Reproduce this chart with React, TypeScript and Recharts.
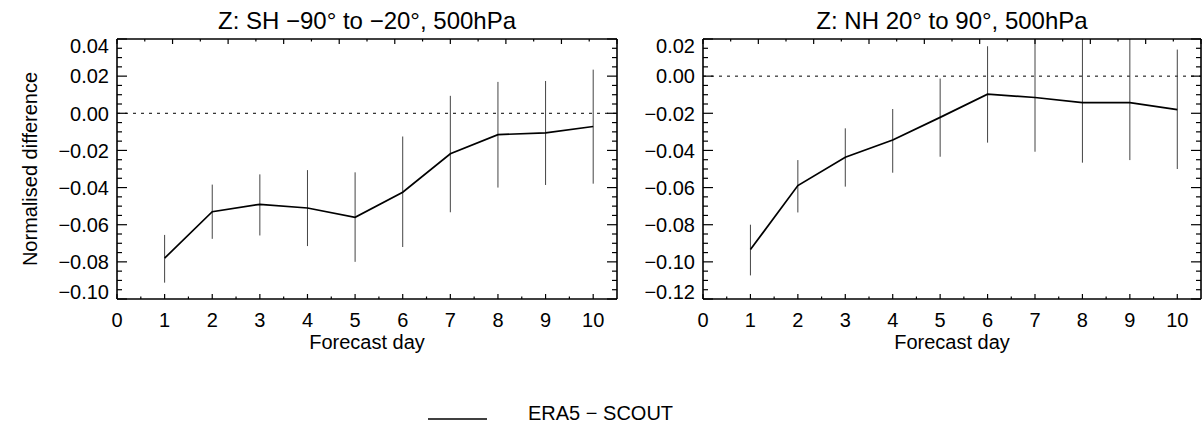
import React from "react";
import { LineChart, Line, XAxis, YAxis, ErrorBar, ReferenceLine, Label } from "recharts";

const FONT = '"Liberation Sans", Arial, Helvetica, sans-serif';

// forecast days
const days = [1, 2, 3, 4, 5, 6, 7, 8, 9, 10];

// SH -90 to -20, 500hPa
const shMean = [-0.078, -0.053, -0.049, -0.051, -0.056, -0.0425, -0.0218, -0.0115, -0.0105, -0.0071];
const shLow = [-0.0912, -0.0676, -0.0658, -0.0715, -0.08, -0.072, -0.0533, -0.04, -0.0386, -0.0379];
const shHigh = [-0.0655, -0.0384, -0.0329, -0.0306, -0.0318, -0.0125, 0.0094, 0.0169, 0.0174, 0.0235];

// NH 20 to 90, 500hPa
const nhMean = [-0.0934, -0.0589, -0.0437, -0.0344, -0.0222, -0.0097, -0.0115, -0.0143, -0.0143, -0.018];
const nhLow = [-0.1073, -0.0734, -0.0595, -0.052, -0.0434, -0.0358, -0.0407, -0.0466, -0.0452, -0.05];
const nhHigh = [-0.08, -0.0452, -0.0281, -0.0177, -0.0013, 0.0161, 0.02, 0.02, 0.02, 0.0143];

const xTicks = [0, 1, 2, 3, 4, 5, 6, 7, 8, 9, 10];
const shYTicks = [-0.1, -0.08, -0.06, -0.04, -0.02, 0, 0.02, 0.04];
const nhYTicks = [-0.12, -0.1, -0.08, -0.06, -0.04, -0.02, 0, 0.02];

const withMinor = (major: number[], parts: number) => {
  const out: number[] = [];
  for (let i = 0; i < major.length - 1; i++) {
    const step = (major[i + 1] - major[i]) / parts;
    for (let k = 0; k < parts; k++) out.push(major[i] + k * step);
  }
  out.push(major[major.length - 1]);
  return out;
};

const isMajor = (v: number, major: number[]) => major.some((m) => Math.abs(m - v) < 1e-9);

const fmt = (v: number) => {
  const s = Math.abs(v).toFixed(2);
  return v < -1e-9 ? "\u2212" + s : s;
};

const buildRows = (mean: number[], low: number[], high: number[]) =>
  days.map((d, i) => ({
    day: d,
    mean: mean[i],
    err: [mean[i] - low[i], high[i] - mean[i]],
  }));

const textStyle = { fontFamily: FONT, fill: "#000" };

const BottomTick = ({ x, y, payload }: any) => {
  const major = isMajor(payload.value, xTicks);
  return (
    <g>
      <line x1={x} x2={x} y1={y} y2={y - (major ? 5 : 2.5)} stroke="#000" strokeWidth={1.2} />
      {major && (
        <text x={x} y={y + 28} textAnchor="middle" fontSize={20} {...textStyle}>
          {payload.value}
        </text>
      )}
    </g>
  );
};

const TopTick = ({ x, y, payload }: any) => {
  const major = isMajor(payload.value, xTicks);
  return <line x1={x} x2={x} y1={y} y2={y + (major ? 5 : 2.5)} stroke="#000" strokeWidth={1.2} />;
};

const makeLeftTick = (major: number[]) => ({ x, y, payload }: any) => {
  const isM = isMajor(payload.value, major);
  let shift = 0;
  if (Math.abs(payload.value - major[0]) < 1e-9) shift = -7.5;
  if (Math.abs(payload.value - major[major.length - 1]) < 1e-9) shift = 7;
  return (
    <g>
      <line x1={x} x2={x + (isM ? 10 : 5)} y1={y} y2={y} stroke="#000" strokeWidth={1.2} />
      {isM && (
        <text x={x - 8} y={y + 7.3 + shift} textAnchor="end" fontSize={20} {...textStyle}>
          {fmt(payload.value)}
        </text>
      )}
    </g>
  );
};

const makeRightTick = (major: number[]) => ({ x, y, payload }: any) => {
  const isM = isMajor(payload.value, major);
  return <line x1={x} x2={x - (isM ? 10 : 5)} y1={y} y2={y} stroke="#000" strokeWidth={1.2} />;
};

const YTitle = ({ viewBox }: any) => {
  const cy = viewBox.y + viewBox.height / 2;
  const bx = viewBox.x + 37;
  return (
    <text x={bx} y={cy} transform={`rotate(-90, ${bx}, ${cy})`} textAnchor="middle" fontSize={20} {...textStyle}>
      Normalised difference
    </text>
  );
};

const XTitle = ({ viewBox }: any) => (
  <text x={viewBox.x + viewBox.width / 2} y={349} textAnchor="middle" fontSize={20} {...textStyle}>
    Forecast day
  </text>
);

const makeTitle = (title: string) => ({ viewBox }: any) => (
  <text x={viewBox.x + viewBox.width / 2} y={29} textAnchor="middle" fontSize={24} {...textStyle}>
    {title}
  </text>
);

interface PanelProps {
  title: string;
  left: number;
  width: number;
  mean: number[];
  low: number[];
  high: number[];
  yTicks: number[];
  showYTitle?: boolean;
}

function Panel({ title, left, width, mean, low, high, yTicks, showYTitle }: PanelProps) {
  const data = buildRows(mean, low, high);
  const yDomain = [yTicks[0], yTicks[yTicks.length - 1]];
  const yAll = withMinor(yTicks, 4);
  const xAll = withMinor(xTicks, 2);
  const axisLine = { stroke: "#000", strokeWidth: 1.6 };
  return (
    <div style={{ position: "absolute", left, top: 0 }}>
      <LineChart width={width} height={360} data={data} margin={{ top: 38, right: 1, bottom: 0, left: 0 }}>
        <XAxis
          xAxisId="b"
          dataKey="day"
          type="number"
          domain={[0, 10.5]}
          allowDataOverflow
          ticks={xAll}
          interval={0}
          tickSize={0}
          tickMargin={0}
          tickLine={false}
          axisLine={axisLine}
          tick={<BottomTick />}
          height={61}
        >
          <Label content={<XTitle />} />
        </XAxis>
        <XAxis
          xAxisId="t"
          orientation="top"
          type="number"
          domain={[0, 10.5]}
          allowDataOverflow
          ticks={xAll}
          interval={0}
          tickSize={0}
          tickMargin={0}
          tickLine={false}
          axisLine={axisLine}
          tick={<TopTick />}
          height={1}
        >
          <Label content={makeTitle(title)} />
        </XAxis>
        <YAxis
          yAxisId="l"
          type="number"
          domain={yDomain}
          allowDataOverflow
          ticks={yAll}
          interval={0}
          tickSize={0}
          tickMargin={0}
          tickLine={false}
          axisLine={axisLine}
          tick={makeLeftTick(yTicks)}
          width={117}
        >
          {showYTitle && <Label content={<YTitle />} />}
        </YAxis>
        <YAxis
          yAxisId="r"
          orientation="right"
          type="number"
          domain={yDomain}
          allowDataOverflow
          ticks={yAll}
          interval={0}
          tickSize={0}
          tickMargin={0}
          tickLine={false}
          axisLine={axisLine}
          tick={makeRightTick(yTicks)}
          width={2}
        />
        <ReferenceLine xAxisId="b" yAxisId="l" y={0} stroke="#000" strokeWidth={1} strokeDasharray="3 5" />
        <Line
          xAxisId="b"
          yAxisId="l"
          dataKey="mean"
          stroke="#000"
          strokeWidth={1.7}
          dot={false}
          isAnimationActive={false}
        >
          <ErrorBar dataKey="err" direction="y" width={0} stroke="#444" strokeWidth={1} isAnimationActive={false} />
        </Line>
      </LineChart>
    </div>
  );
}

export default function App() {
  return (
    <div
      style={{
        position: "absolute",
        left: 0,
        top: 0,
        width: 1203,
        height: 425,
        overflow: "hidden",
        background: "#fff",
      }}
    >
      <Panel
        title={"Z: SH \u221290\u00b0 to \u221220\u00b0, 500hPa"}
        left={0}
        width={620}
        mean={shMean}
        low={shLow}
        high={shHigh}
        yTicks={shYTicks}
        showYTitle
      />
      <Panel
        title={"Z: NH 20\u00b0 to 90\u00b0, 500hPa"}
        left={586}
        width={618}
        mean={nhMean}
        low={nhLow}
        high={nhHigh}
        yTicks={nhYTicks}
      />
      <svg width={300} height={40} style={{ position: "absolute", left: 420, top: 390 }}>
        <line x1={8} x2={67} y1={29} y2={29} stroke="#000" strokeWidth={1.5} />
        <text x={108} y={29.5} fontSize={20} {...textStyle}>
          {"ERA5 \u2212 SCOUT"}
        </text>
      </svg>
    </div>
  );
}
